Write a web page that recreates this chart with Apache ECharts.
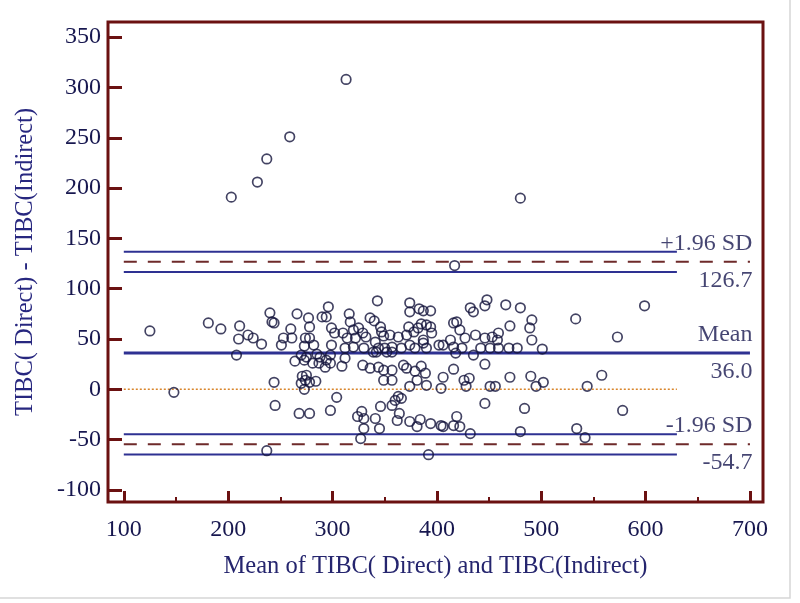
<!DOCTYPE html>
<html><head><meta charset="utf-8">
<script src="https://cdn.jsdelivr.net/npm/echarts@6/dist/echarts.min.js"></script>
<style>html,body{margin:0;padding:0;background:#fff}#c{width:800px;height:603px}</style>
</head><body><div id="c"></div>
<script>
// ---- data ----
const xMajorTicks = [100, 200, 300, 400, 500, 600, 700];
const xMinorTicks = [150, 250, 350, 450, 550, 650];
const yTicks = [-100, -50, 0, 50, 100, 150, 200, 250, 300, 350];
const meanDiff = 36.0;
const upperLoA = 126.7;
const lowerLoA = -54.7;
const upperLoACI = [116.7, 136.7];
const lowerLoACI = [-64.7, -44.7];
const lineStartX = 100;
const shortEndX = 630;
const longEndX = 700;
const annotY = [upperLoA, meanDiff, lowerLoA];
const annotTop = ['+1.96 SD', 'Mean', '-1.96 SD'];
const annotBottom = ['126.7', '36.0', '-54.7'];
const points = [
[125,58],[148,-3],[181,66],[193,60],
[203,191],[228,206],[237,229],[259,251],[313,308],[480,190],[417,123],
[211,63],[210,50],[208,34],[219,54],[224,51],[232,45],[237,-61],
[240,76],[242,67],[244,66],[244,7],[245,-16],[251,44],[253,51],
[260,60],[261,51],[264,28],[266,75],[268,-24],[271,13],[270,6],[273,0],[273,43],[274,51],[273,29],[274,9],[277,71],[278,62],[278,51],[278,7],[278,-24],[275,14],[270,34],[275,32],
[282,44],[281,26],[285,35],[284,8],[287,26],[290,72],[293,22],[294,72],[294,29],[296,82],[298,34],[298,-21],[299,44],[299,61],[298,26],[288,32],
[302,56],[304,-8],[309,23],[312,31],[310,56],[314,51],[312,41],[316,75],[317,67],
[320,59],[320,42],[322,51],[325,61],[324,-27],[328,-22],[330,-29],[330,-39],[327,-49],[329,56],[332,52],[330,41],[329,24],
[336,21],[336,71],[340,68],[343,88],[346,62],[347,57],[349,53],[341,47],[344,41],[344,22],[349,19],[349,9],[345,-39],[341,-29],[346,-17],[350,41],[339,37],[342,37],[352,37],[357,37],
[355,54],[357,42],[357,19],[357,9],[357,-16],[360,-11],[363,-7],[366,-9],[364,-24],[362,-31],[363,52],[366,41],[368,24],[371,21],
[373,62],[374,86],[374,77],[383,80],[387,78],[371,54],[378,57],[382,61],[385,65],[390,64],[374,44],[379,41],[387,46],[379,18],[385,23],[389,16],[381,9],[374,3],[390,4],[374,-32],[381,-37],[384,-30],[392,-65],[390,41],[387,49],
[394,78],[394,62],[395,56],[402,44],[406,44],[413,49],[416,42],[418,36],[416,66],[419,67],[394,-34],[404,-36],[406,-37],[416,-36],[419,-27],[406,12],[404,1],[416,20],
[422,59],[424,41],[427,51],[437,54],[442,41],[435,34],[446,51],[432,81],[435,77],[448,89],[446,83],[426,9],[428,3],[431,11],[446,25],[446,-14],[422,-37],[432,-44],
[453,52],[458,49],[459,56],[451,41],[459,41],[469,41],[477,41],[466,84],[470,63],[480,81],[451,3],[456,3],[470,12],[480,-42],[484,-19],
[491,69],[489,61],[491,49],[501,40],[502,7],[495,3],[490,13],
[533,70],[534,-39],[542,-48],[544,3],[558,14],[573,52],[578,-21],[599,83]
];

// ---- styles ----
const maroon = '#6b1111';
const navy = '#17174f';
const blue = '#2e3192';
const serif = '"Liberation Serif", "Times New Roman", serif';

function hline(y, x0, x1, style, z) {
  return {
    type: 'line', data: [[x0, y], [x1, y]], symbol: 'none', silent: true,
    lineStyle: style, z: z || 2, animation: false
  };
}

const series = [
  hline(0, lineStartX, shortEndX, {color: '#d9852b', width: 1.5, type: [2, 2]}),
  hline(upperLoACI[1], lineStartX, shortEndX, {color: blue, width: 2}),
  hline(upperLoACI[0], lineStartX, shortEndX, {color: blue, width: 2}),
  hline(upperLoA, lineStartX, longEndX, {color: '#6e2a2a', width: 2, type: [13, 11]}),
  hline(lowerLoACI[1], lineStartX, shortEndX, {color: blue, width: 2}),
  hline(lowerLoACI[0], lineStartX, shortEndX, {color: blue, width: 2}),
  hline(lowerLoA, lineStartX, longEndX, {color: '#6e2a2a', width: 2, type: [13, 11]}),
  hline(meanDiff, lineStartX, longEndX, {color: blue, width: 3}),
  {
    type: 'scatter', data: points, symbol: 'circle', symbolSize: 9.5, z: 5,
    itemStyle: {color: 'rgba(255,255,255,0)', borderColor: '#14143c', borderWidth: 1.7},
    animation: false
  },
  {
    type: 'scatter', z: 6, symbolSize: 1, silent: true, animation: false,
    itemStyle: {color: 'rgba(0,0,0,0)'},
    data: annotY.map((y, i) => ({value: [longEndX, y], top: annotTop[i], bottom: annotBottom[i]})),
    label: {
      show: true, position: 'left', distance: 0, align: 'right', offset: [3, 0],
      formatter: p => '{a|' + p.data.top + '}\n{a|' + p.data.bottom + '}',
      rich: {a: {fontFamily: serif, fontSize: 24, color: navy, lineHeight: 37, align: 'right'}}
    }
  }
];

const xBase = {
  type: 'value', min: 84.86, max: 712.5, position: 'bottom',
  axisLine: {show: false, onZero: false}, splitLine: {show: false}
};

const option = {
  backgroundColor: '#fff',
  animation: false,
  grid: {
    left: 108, right: 37, top: 22, bottom: 101, show: true,
    borderColor: maroon, borderWidth: 3, backgroundColor: 'rgba(0,0,0,0)'
  },
  xAxis: [
    Object.assign({}, xBase, {
      axisTick: {show: true, inside: true, length: 11, customValues: xMajorTicks, lineStyle: {color: maroon, width: 3}},
      axisLabel: {customValues: xMajorTicks, margin: 16, fontFamily: serif, fontSize: 24, color: navy},
      name: 'Mean of TIBC( Direct) and TIBC(Indirect)', nameLocation: 'middle', nameGap: 52,
      nameTextStyle: {fontFamily: serif, fontSize: 24.5, color: '#25256e'}
    }),
    Object.assign({}, xBase, {
      axisTick: {show: true, inside: true, length: 5, customValues: xMinorTicks, lineStyle: {color: maroon, width: 2}},
      axisLabel: {show: false}
    })
  ],
  yAxis: {
    type: 'value', min: -112, max: 365.1,
    axisLine: {show: false, onZero: false}, splitLine: {show: false},
    axisTick: {show: true, inside: true, length: 14, customValues: yTicks, lineStyle: {color: maroon, width: 3}},
    axisLabel: {customValues: yTicks, margin: 7, fontFamily: serif, fontSize: 24, color: navy},
    name: 'TIBC( Direct) - TIBC(Indirect)', nameLocation: 'middle', nameGap: 70, nameRotate: 90,
    nameTextStyle: {fontFamily: serif, fontSize: 24.5, color: '#27277f'}
  },
  graphic: [{
    type: 'rect', shape: {x: -2, y: -2, width: 792, height: 600}, silent: true,
    style: {fill: 'none', stroke: '#d6d6d6', lineWidth: 1.5}
  }],
  series: series
};

const chart = echarts.init(document.getElementById('c'), null, {renderer: 'canvas'});
chart.setOption(option);
</script>
</body></html>
